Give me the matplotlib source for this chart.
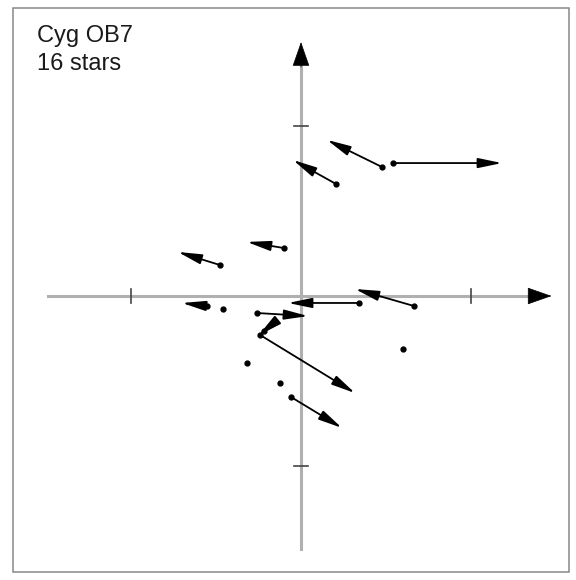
import matplotlib.pyplot as plt
from matplotlib.patches import Rectangle

# proper-motion vectors, in units of the axis tick spacing
star_x = [0.476, 0.541, 0.206, -0.100, -0.476, -0.553, -0.259, 0.341, 0.665, -0.241, -0.059, -0.218]
star_y = [0.759, 0.782, 0.659, 0.282, 0.182, -0.059, -0.100, -0.041, -0.059, -0.229, -0.594, -0.206]
end_x = [0.153, 1.182, -0.047, -0.318, -0.724, -0.700, 0.041, -0.076, 0.318, 0.318, 0.241, -0.250]
end_y = [0.918, 0.782, 0.800, 0.318, 0.259, -0.041, -0.118, -0.041, 0.041, -0.571, -0.776, -0.232]

# stars without a measured motion
dot_x = [-0.459, 0.600, -0.318, -0.124]
dot_y = [-0.076, -0.312, -0.394, -0.512]

title = "Cyg OB7\n16 stars"

fig = plt.figure(figsize=(5.76, 5.80), dpi=100)
ax = fig.add_axes([0, 0, 1, 1])
ax.set_xlim(-301 / 170, 275 / 170)
ax.set_ylim(-284 / 170, 296 / 170)
ax.axis('off')

# frame
ax.add_patch(Rectangle((-288 / 170, -276 / 170), 556 / 170, 564 / 170,
                       fill=False, ec='#888888', lw=1.1))

# axes with arrow tips
axis_color = '#b0b0b0'
ax.plot([-1.49, 1.36], [0, 0], color=axis_color, lw=2.2, zorder=1)
ax.plot([0, 0], [-1.49, 1.36], color=axis_color, lw=2.2, zorder=1)
ax.annotate('', xy=(1.49, 0), xytext=(1.33, 0),
            arrowprops=dict(arrowstyle='-|>,head_length=1.0,head_width=0.35',
                            mutation_scale=16, color='black', lw=0.5))
ax.annotate('', xy=(0, 1.51), xytext=(0, 1.33),
            arrowprops=dict(arrowstyle='-|>,head_length=1.0,head_width=0.35',
                            mutation_scale=16, color='black', lw=0.5))
for t in (-1, 1):
    ax.plot([t, t], [-0.04, 0.04], color='#444444', lw=1.2, zorder=1)
    ax.plot([-0.04, 0.04], [t, t], color='#444444', lw=1.2, zorder=1)

# motion vectors
for x0, y0, x1, y1 in zip(star_x, star_y, end_x, end_y):
    ax.annotate('', xy=(x1, y1), xytext=(x0, y0),
                arrowprops=dict(arrowstyle='-|>,head_length=1.2,head_width=0.25',
                                mutation_scale=12, color='black', lw=1.3,
                                shrinkA=0, shrinkB=0))
ax.plot(star_x, star_y, 'o', color='black', ms=3.5, zorder=3)
ax.plot(dot_x, dot_y, 'o', color='black', ms=3.5, zorder=3)

fig.text(37 / 576, 1 - 25 / 580, title, fontsize=17, family='Liberation Sans',
         color='#1a1a1a', va='top', ha='left', linespacing=1.35)

fig.savefig('out.png', dpi=100)
